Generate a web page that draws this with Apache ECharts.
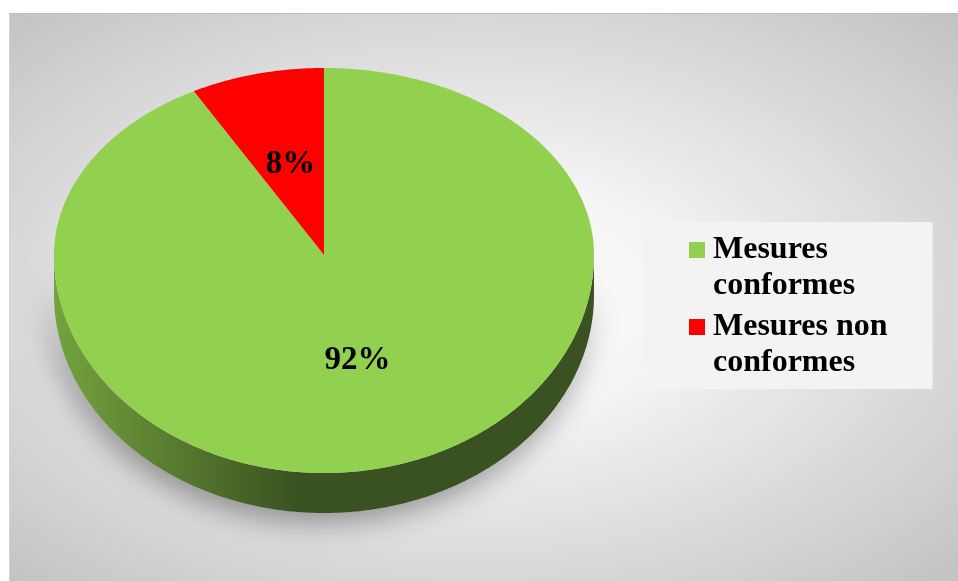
<!DOCTYPE html>
<html>
<head>
<meta charset="utf-8">
<script src="https://cdn.jsdelivr.net/npm/echarts@6/dist/echarts.min.js"></script>
<style>
html, body { margin: 0; padding: 0; background: #fff; }
#box {
    position: absolute; left: 9px; top: 13px; width: 949px; height: 568px;
    border-top: 1px solid #bdbdbd; border-left: 1px solid #d4d4d4;
    background: radial-gradient(ellipse farthest-corner at 49% 50%, #ffffff 0%, #f4f4f4 30%, #c2c2c2 100%);
}
#chart { position: absolute; left: 0; top: 0; width: 958px; height: 581px; }
</style>
</head>
<body>
<div id="box"></div>
<div id="chart"></div>
<script>
// données du graphique
var names = ['Mesures conformes', 'Mesures non conformes'];
var values = [92, 8];
var labels = ['92%', '8%'];
var topColors = ['#92d050', '#ff0000'];
var sideColors = [['#74a33e', '#3a5221'], ['#b30000', '#6e0000']];

// géométrie du camembert 3D (ellipse du dessus + épaisseur)
var cx = 324, cy = 255, rx = 270, ryTop = 187, ryBot = 218, depth = 40;
var total = values.reduce(function (a, b) { return a + b; }, 0);

function pt(deg, dy) {
    var r = deg * Math.PI / 180;
    var c = Math.cos(r);
    var ry = c > 0 ? ryTop : ryBot;
    return [cx + rx * Math.sin(r), cy - ry * c + dy];
}

function arc(a1, a2, dy) {
    var pts = [];
    var n = Math.max(2, Math.ceil((a2 - a1) / 0.5));
    for (var i = 0; i <= n; i++) {
        pts.push(pt(a1 + (a2 - a1) * i / n, dy));
    }
    return pts;
}

function makeRender(idx) {
    return function (params, api) {
        var start = 0;
        for (var i = 0; i < idx; i++) start += values[i];
        var a1 = start / total * 360;
        var a2 = a1 + api.value(0) / total * 360;
        var children = [];
        // face latérale visible (devant, de 90° à 270°)
        var s = Math.max(a1, 90), e = Math.min(a2, 270);
        if (e > s) {
            var up = arc(s, e, 0);
            var down = arc(s, e, depth).reverse();
            children.push({
                type: 'polygon',
                z2: 1,
                shape: { points: up.concat(down) },
                style: {
                    fill: new echarts.graphic.LinearGradient(0, 0, 1, 0, [
                        { offset: 0, color: sideColors[idx][0] },
                        { offset: 0.45, color: sideColors[idx][1] },
                        { offset: 1, color: sideColors[idx][1] }
                    ]),
                    shadowBlur: 28,
                    shadowOffsetY: 10,
                    shadowOffsetX: -4,
                    shadowColor: 'rgba(0,0,0,0.35)'
                }
            });
        }
        // face du dessus
        children.push({
            type: 'polygon',
            z2: 2,
            shape: { points: [[cx, cy]].concat(arc(a1, a2, 0)) },
            style: { fill: topColors[idx] }
        });
        // étiquette
        var mid = (a1 + a2) / 2;
        var r = mid * Math.PI / 180;
        var ry = Math.cos(r) > 0 ? ryTop : ryBot;
        children.push({
            type: 'text',
            z2: 3,
            x: cx + 0.5 * rx * Math.sin(r),
            y: cy - 0.5 * ry * Math.cos(r),
            style: {
                text: labels[idx],
                fill: '#000',
                font: 'bold 33px "Liberation Serif"',
                align: 'center',
                verticalAlign: 'middle'
            }
        });
        return { type: 'group', children: children };
    };
}

var series = names.map(function (name, i) {
    return {
        type: 'custom',
        name: name,
        coordinateSystem: 'none',
        itemStyle: { color: topColors[i] },
        renderItem: makeRender(i),
        data: [[values[i]]],
        silent: true
    };
});

var chart = echarts.init(document.getElementById('chart'));
chart.setOption({
    animation: false,
    legend: {
        orient: 'vertical',
        left: 643,
        top: 222,
        icon: 'none',
        itemWidth: 0,
        itemHeight: 0,
        itemGap: 9,
        padding: [12, 45, 10, 41],
        backgroundColor: '#f3f3f3',
        selectedMode: false,
        data: names,
        formatter: function (name) {
            var k = names.indexOf(name);
            var p = name.lastIndexOf(' ');
            return '{sq' + k + '|}{t|' + name.slice(0, p) + '}\n{sp|}{t|' + name.slice(p + 1) + '}';
        },
        textStyle: {
            rich: {
                sq0: { width: 16, height: 16, backgroundColor: topColors[0] },
                sq1: { width: 16, height: 16, backgroundColor: topColors[1] },
                sp: { width: 16 },
                t: {
                    fontFamily: 'Liberation Serif',
                    fontWeight: 'bold',
                    fontSize: 32,
                    lineHeight: 36,
                    color: '#000',
                    padding: [0, 0, 0, 8]
                }
            }
        }
    },
    series: series
});
</script>
</body>
</html>
